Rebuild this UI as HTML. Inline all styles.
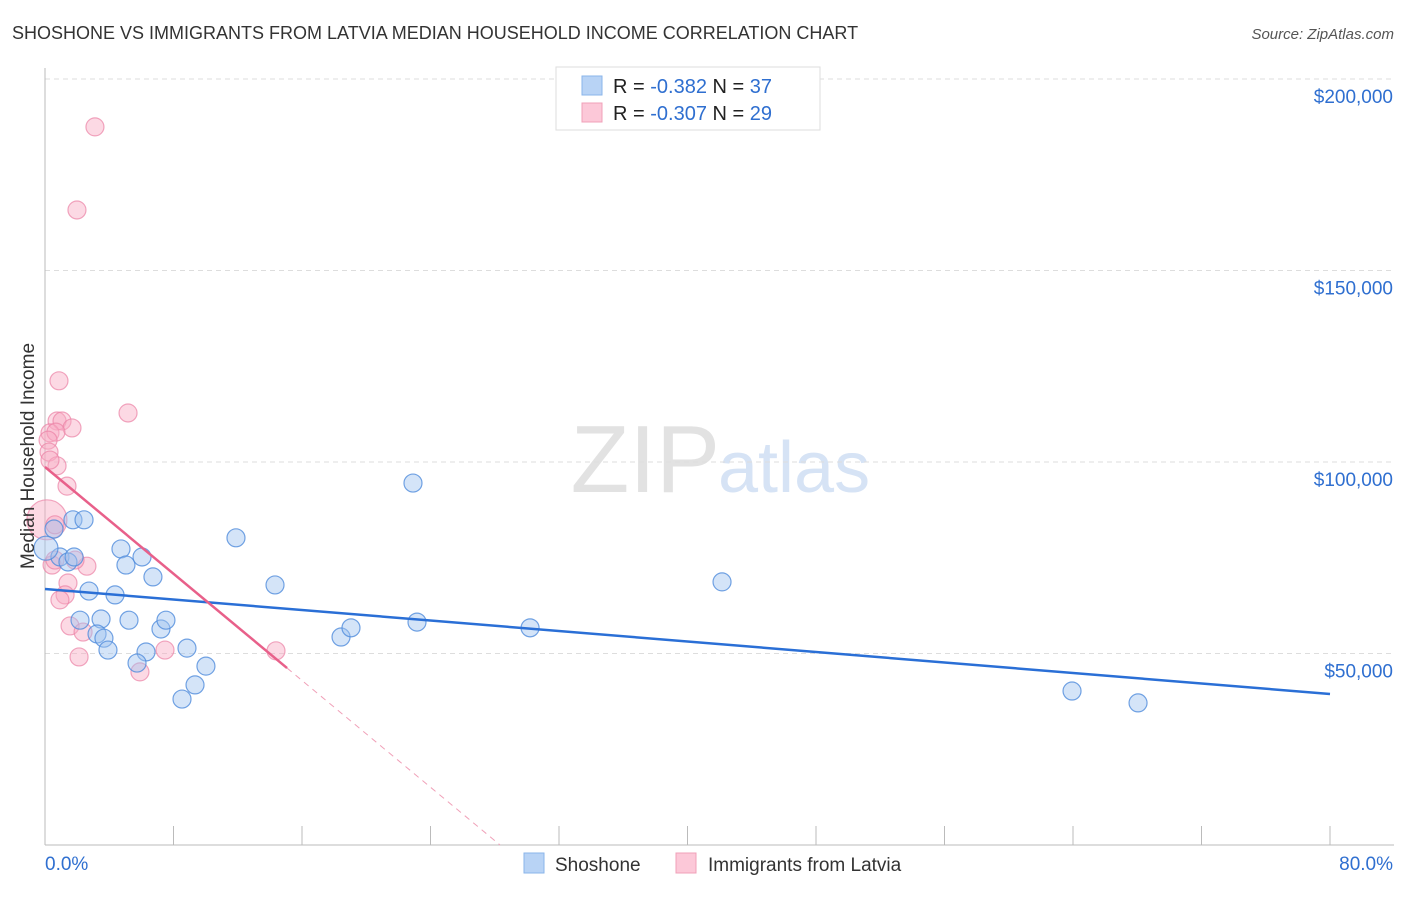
<!DOCTYPE html>
<html><head><meta charset="utf-8"><style>
body{margin:0;background:#fff;font-family:"Liberation Sans",sans-serif}
svg text{font-family:"Liberation Sans",sans-serif}
</style></head><body>
<svg id="c" width="1406" height="892" xmlns="http://www.w3.org/2000/svg">
<text x="12" y="39" font-size="18" fill="#333">SHOSHONE VS IMMIGRANTS FROM LATVIA MEDIAN HOUSEHOLD INCOME CORRELATION CHART</text>
<text x="1394" y="39" font-size="15" fill="#555" font-style="italic" text-anchor="end">Source: ZipAtlas.com</text>
<text x="720" y="492" font-size="96" fill="#e2e2e2" font-family="Liberation Serif" text-anchor="end">ZIP</text>
<text x="718" y="492" font-size="72" fill="#d6e3f5">atlas</text>
<g id="grid"></g><g id="axes"></g><g id="marks"></g>
<text transform="translate(34,456) rotate(-90)" font-size="19" fill="#333" text-anchor="middle">Median Household Income</text>
<g>
<rect x="556" y="67" width="264" height="63" fill="#fff" stroke="#ddd"/>
<rect x="582" y="76" width="20" height="19" fill="#b8d3f5" stroke="#8ab4ea"/>
<rect x="582" y="103" width="20" height="19" fill="#fcc8d8" stroke="#f0a0b8"/>
<text x="613" y="93" font-size="20" fill="#222">R = <tspan fill="#2f6fd0">-0.382</tspan>   N = <tspan fill="#2f6fd0">37</tspan></text>
<text x="613" y="120" font-size="20" fill="#222">R = <tspan fill="#2f6fd0">-0.307</tspan>   N = <tspan fill="#2f6fd0">29</tspan></text>
</g>
<g>
<rect x="524" y="853" width="20" height="20" fill="#b8d3f5" stroke="#8ab4ea"/>
<text x="555" y="871" font-size="19" fill="#333">Shoshone</text>
<rect x="676" y="853" width="20" height="20" fill="#fcc8d8" stroke="#f0a0b8"/>
<text x="708" y="871" font-size="19" fill="#333">Immigrants from Latvia</text>
</g>
</svg>
<script>
const yTicks=[50000,100000,150000,200000];
const yTickLabels=["$50,000","$100,000","$150,000","$200,000"];
const xTicks=[0,8,16,24,32,40,48,56,64,72,80];
const blueX=[0.56,1.74,2.43,0.93,1.43,1.81,2.74,2.18,3.49,3.24,3.67,3.92,4.36,4.73,5.04,5.23,6.04,6.29,5.73,6.72,7.22,7.53,8.53,8.84,9.34,10.02,11.89,14.32,18.43,19.05,22.91,23.16,30.2,42.15,63.94,68.05,0.06];
const blueY=[82500,84900,84900,75200,73900,75200,66300,58700,59000,55100,54000,50900,65300,77300,73100,58700,75200,50400,47500,70000,56400,58700,38100,51400,41800,46700,80200,67900,54300,56700,94500,58200,56700,68700,40200,37100,77500];
const pinkX=[3.11,1.99,0.87,5.17,0.75,1.06,1.68,0.31,0.68,0.19,0.25,0.75,1.37,0.12,0.62,0.44,1.43,2.61,1.25,0.93,1.56,2.37,2.12,5.91,7.47,14.38,0.31,0.62,1.87];
const pinkY=[187500,165800,121200,112800,110700,110700,108900,107600,107800,105700,102600,99000,93700,84900,83600,73100,68400,72800,65300,64000,57200,55600,49100,45200,50900,50700,100500,74400,74400];
const blueTrend=[66840,39430];
const pinkTrend=[98700,-3484];
const sx=v=>45+v/80*1285, sy=v=>845-v/50000*191.5;
const NS="http://www.w3.org/2000/svg";
function mk(t,a,p){const e=document.createElementNS(NS,t);for(const k in a)e.setAttribute(k,a[k]);document.getElementById(p).appendChild(e);return e;}
yTicks.forEach((v,i)=>{
 const l=mk('line',{x1:45,x2:1394,y1:sy(v),y2:sy(v),stroke:'#ddd','stroke-dasharray':'5,4'},'grid');
 
 
 const t=mk('text',{x:1393,y:sy(v)+24,'font-size':19,fill:'#2f6fd0','text-anchor':'end'},'axes');
 t.textContent=yTickLabels[i];
 
 
});
mk('line',{x1:45,x2:1394,y1:845,y2:845,stroke:'#bbb'},'axes');
mk('line',{x1:45,x2:45,y1:68,y2:845,stroke:'#bbb'},'axes');
xTicks.forEach(v=>{const l=mk('line',{x1:sx(v),x2:sx(v),y1:826,y2:845,stroke:'#bbb'},'axes');
 
 });
let t0=mk('text',{x:45,y:870,'font-size':19,fill:'#2f6fd0'},'axes');t0.textContent='0.0%';


let t1=mk('text',{x:1393,y:870,'font-size':19,fill:'#2f6fd0','text-anchor':'end'},'axes');t1.textContent='80.0%';


pinkX.forEach((x,i)=>{const c=mk('circle',{cx:sx(x),cy:sy(pinkY[i]),r:i==13?20:9,fill:'rgba(248,170,195,0.45)',stroke:'rgba(235,130,165,0.7)','stroke-width':1.2},'marks');
 
 });
blueX.forEach((x,i)=>{const c=mk('circle',{cx:sx(x),cy:sy(blueY[i]),r:i==36?12:9,fill:'rgba(160,195,240,0.45)',stroke:'rgba(80,140,220,0.8)','stroke-width':1.2},'marks');
 
 });
const bl=mk('line',{x1:sx(0),y1:sy(blueTrend[0]),x2:sx(80),y2:sy(blueTrend[1]),stroke:'#2a6fd6','stroke-width':2.5},'marks');


const pe=15.07, pz=-pinkTrend[0]/pinkTrend[1];
const pl=mk('line',{x1:sx(0),y1:sy(pinkTrend[0]),x2:sx(pe),y2:sy(pinkTrend[0]+pinkTrend[1]*pe),stroke:'#e8608a','stroke-width':2.5},'marks');


const pd=mk('line',{x1:sx(pe),y1:sy(pinkTrend[0]+pinkTrend[1]*pe),x2:sx(pz),y2:sy(0),stroke:'#f0a0b8','stroke-width':1,'stroke-dasharray':'6,5'},'marks');


</script>
</body></html>
